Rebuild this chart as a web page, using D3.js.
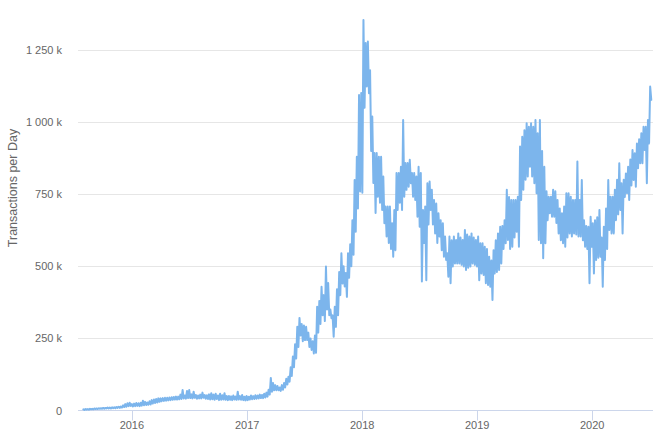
<!DOCTYPE html>
<html><head><meta charset="utf-8">
<script src="https://cdn.jsdelivr.net/npm/d3@7"></script>
<style>body{margin:0;background:#fff}svg{display:block;font-family:"Liberation Sans",Arial,Helvetica,sans-serif}</style>
</head><body><svg id="c" width="658" height="440"></svg>
<script>
// Weekly data (thousands of transactions per day): highest and lowest day of each week
const weekStart = "2015-07-30";
const weekHigh = [
4,5,5,6,6, 7,7,8,8, 9,9,10,10,11, 11,12,13,14, 18,22,25,27,
22,24,26,25,27, 34,30,28,32, 36,38,40,42, 42,43,44,44,45, 46,47,48,48,
55,71,52,68, 71,56,65,54,52, 55,62,54,53, 56,60,55,58, 52,58,53,60,50,
50,49,52,48, 65,50,54,48,
50,48,52,50,53, 52,55,54,58, 62,72,113,95, 88,85,80,88,95, 110,117,150,187,
230,290,321,300, 295,290,270,250,240, 260,360,380,429, 400,499,442,350,
330,360,420,480,545, 500,477,545,576, 660,799,880,1094,
1101,1354,1274,1279,1180, 1019,893,893,880,880, 811,707,707,707,649,
695,823,823,845,1007, 858,858,869,823,823, 811,845,823,695,707,
788,794,765,730,718, 684,660,649,603,545, 603,590,603,591,614,
600,591,626,610,603, 614,600,591,603,580, 580,568,560,533,520,
556,590,614,637,640, 660,765,740,730,730, 730,741,915,949,972,
996,984,996,984,1007, 961,1007,900,845,760, 741,741,765,760,730,
700,684,707,753,753, 741,730,730,863,730, 799,660,640,637,672,
649,660,670,695,600, 637,700,799,741,741, 765,800,857,788,800,
822,845,870,903,892, 926,940,961,984,984, 1007,1123
];
const weekLow = [
2,3,3,4,4, 5,5,6,6, 6,7,7,7,8, 8,9,9,10, 12,13,15,16,
14,15,16,15,17, 18,19,20,21, 24,26,28,30, 32,33,34,35,36, 37,38,38,39,
40,42,41,43, 43,42,44,41,42, 42,44,41,40, 38,39,37,40, 36,37,38,37,36,
37,36,38,37, 38,37,36,35,
36,38,39,40,41, 42,43,43,45, 48,55,65,70, 70,70,68,72,80, 90,100,120,150,
180,220,260,240, 244,244,220,210,198, 200,270,300,330, 310,350,330,320,
256,290,330,400,440, 430,394,460,500, 540,620,700,759,
755,1050,1123,1100,900, 789,685,741,720,695, 649,603,581,560,533,
556,695,720,695,741, 765,776,788,741,730, 672,637,447,581,452,
645,695,645,614,581, 603,556,533,522,464, 441,499,510,510,510,
505,499,487,495,499, 510,505,499,452,475, 470,441,435,429,383,
475,480,487,510,560, 580,591,560,568,600, 620,568,730,765,800,
811,845,811,788,753, 591,580,528,580,660, 684,672,672,650,614,
590,580,568,600,614, 603,614,610,603,603, 590,568,560,441,568,
475,522,530,533,429, 522,560,626,614,614, 660,680,695,614,740,
753,730,780,799,776, 840,857,857,903,788, 926,1077
];
const yTicks = [0, 250000, 500000, 750000, 1000000, 1250000];
const yTickLabels = ["0", "250 k", "500 k", "750 k", "1 000 k", "1 250 k"];
const xTickYears = ["2016", "2017", "2018", "2019", "2020"];
const yTitle = "Transactions per Day";

const svg = d3.select("#c");
const DAY = 864e5;
const x = d3.scaleUtc()
  .domain([new Date(Date.UTC(2015, 6, 14)), new Date(Date.UTC(2020, 6, 12))])
  .range([78, 653]);
const y = d3.scaleLinear().domain([0, 1375000]).range([410.5, 13.9]);

// grid lines
svg.append("g").selectAll("line").data(yTicks.slice(1)).join("line")
  .attr("x1", 78).attr("x2", 653)
  .attr("y1", d => Math.round(y(d)) + 0.5).attr("y2", d => Math.round(y(d)) + 0.5)
  .attr("stroke", "#e6e6e6").attr("stroke-width", 1);

// y labels
svg.append("g").selectAll("text").data(yTicks).join("text")
  .attr("x", 62).attr("y", d => Math.round(y(d)) + 4)
  .attr("text-anchor", "end").attr("font-size", 11).attr("fill", "#666666")
  .text((d, i) => yTickLabels[i]);

// y title
svg.append("text")
  .attr("transform", "translate(17,188) rotate(-90)")
  .attr("text-anchor", "middle").attr("font-size", 12.5).attr("fill", "#666666")
  .text(yTitle);

// x axis
const xTickDates = xTickYears.map(s => new Date(Date.UTC(+s, 0, 1)));
svg.append("line").attr("x1", 78).attr("x2", 653).attr("y1", 410.5).attr("y2", 410.5)
  .attr("stroke", "#ccd6eb").attr("stroke-width", 1);
svg.append("g").selectAll("line").data(xTickDates).join("line")
  .attr("x1", d => Math.round(x(d)) + 0.5).attr("x2", d => Math.round(x(d)) + 0.5)
  .attr("y1", 410.5).attr("y2", 420.5).attr("stroke", "#ccd6eb");
svg.append("g").selectAll("text").data(xTickDates).join("text")
  .attr("x", d => x(d)).attr("y", 429)
  .attr("text-anchor", "middle").attr("font-size", 11).attr("fill", "#666666")
  .text((d, i) => xTickYears[i]);

// series
const start = new Date(weekStart + "T00:00:00Z");
const pts = [];
weekHigh.forEach((h, i) => {
  pts.push([new Date(+start + (7 * i + 1) * DAY), h * 1000]);
  pts.push([new Date(+start + (7 * i + 4.5) * DAY), weekLow[i] * 1000]);
});
const line = d3.line().x(d => x(d[0])).y(d => y(d[1]));
svg.append("path").datum(pts).attr("d", line)
  .attr("fill", "none").attr("stroke", "#7cb5ec").attr("stroke-width", 2)
  .attr("stroke-linejoin", "round").attr("stroke-linecap", "round");
</script></body></html>
